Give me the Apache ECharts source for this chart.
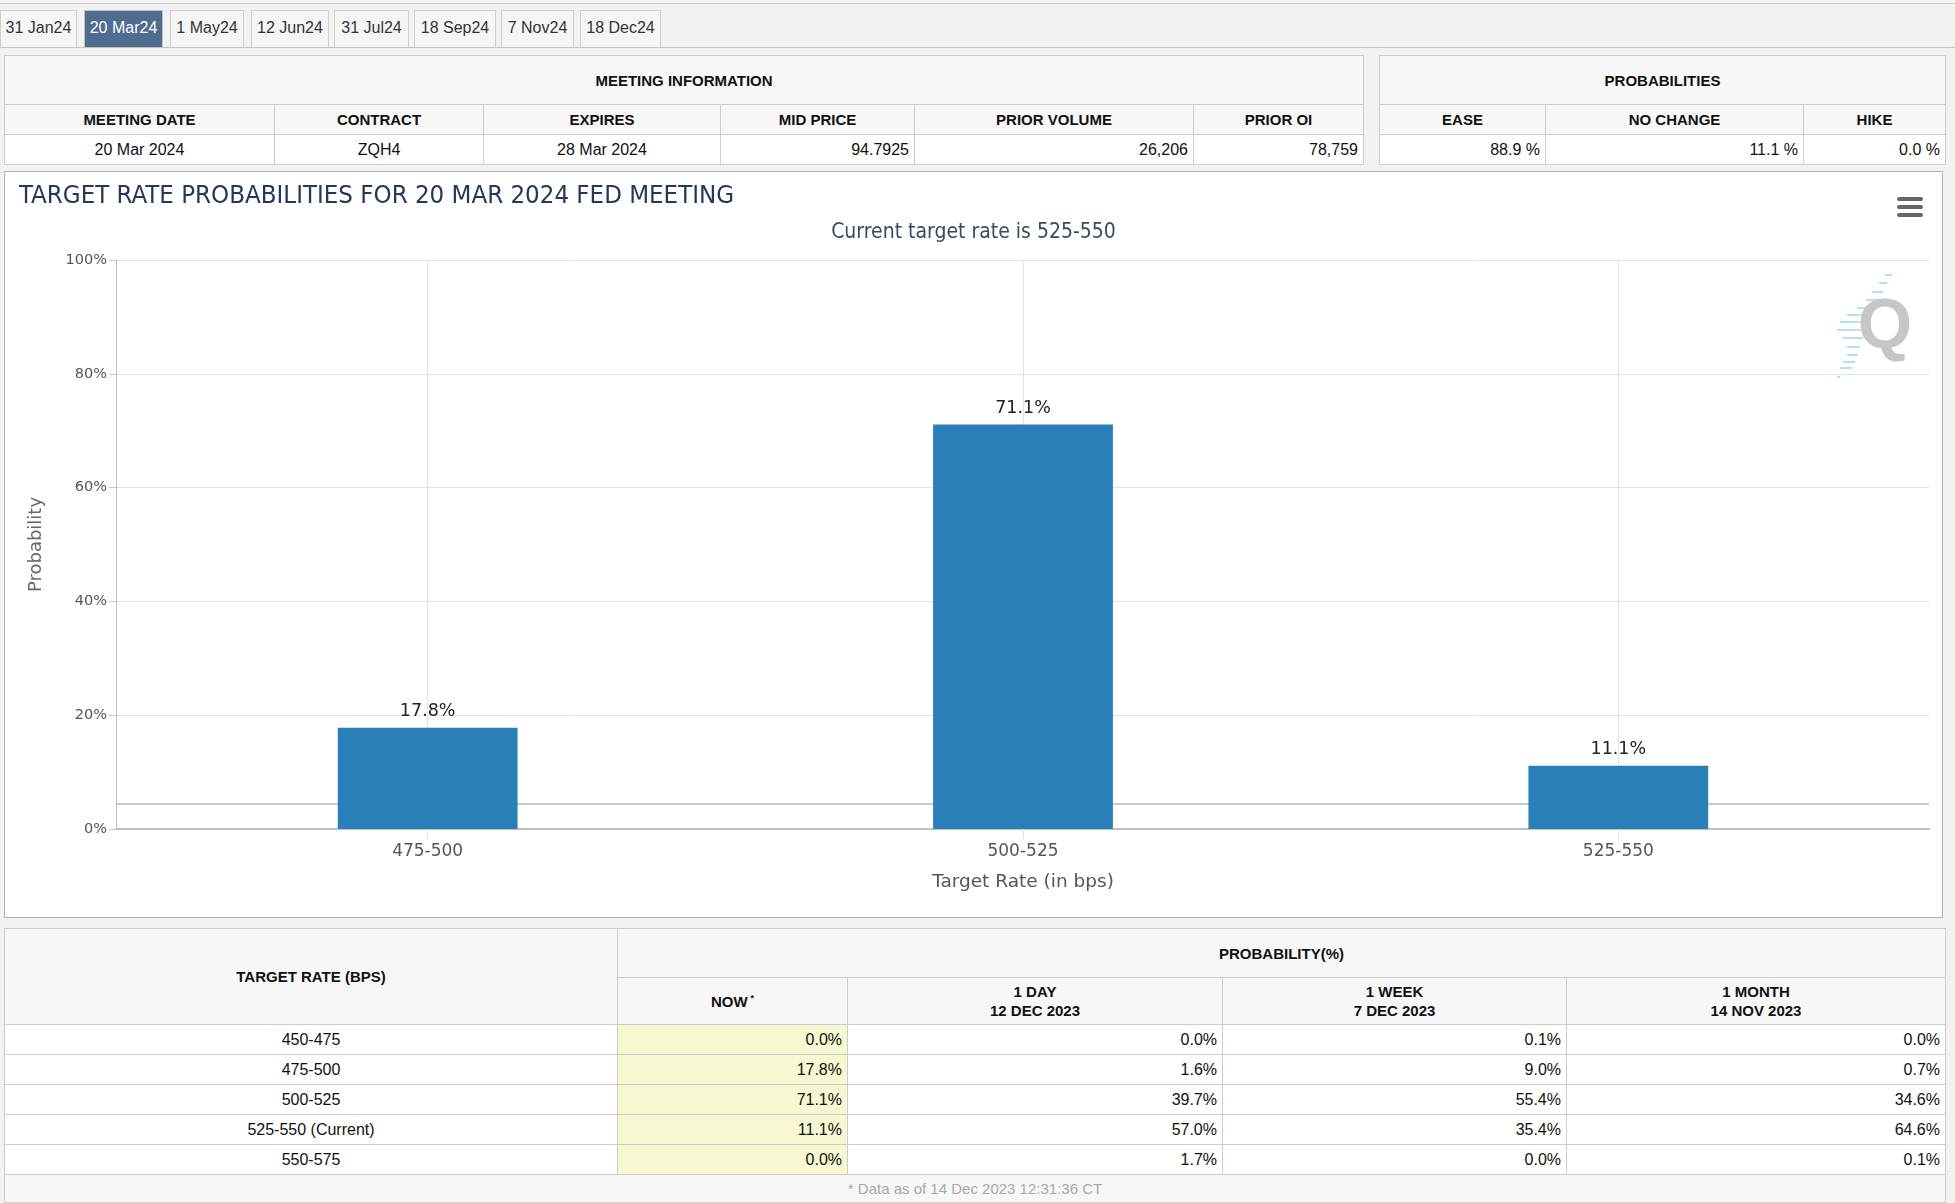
<!DOCTYPE html>
<html><head><meta charset="utf-8">
<script src="https://cdn.jsdelivr.net/npm/echarts@6/dist/echarts.min.js"></script>
<style>
html,body{margin:0;padding:0;background:#f2f2f2;width:1955px;height:1203px;overflow:hidden;font-family:"Liberation Sans",Arial,sans-serif;position:relative;}
.line{position:absolute;background:#cfcfcf;}
.tab{position:absolute;top:10px;height:37px;border:1px solid #cfcfcf;border-bottom:none;background:#f5f5f5;box-sizing:border-box;font-size:16px;line-height:34px;text-align:center;color:#333;}
.tab.sel{background:#4f6b8e;color:#fff;border-color:#c0c0c0;}
table{border-collapse:collapse;table-layout:fixed;position:absolute;background:#fff;}
td,th{border:1px solid #cdcdcd;padding:0 6px;font-size:16px;color:#111;overflow:hidden;white-space:nowrap;box-sizing:border-box;}
th{background:#f7f7f7;font-weight:bold;font-size:15px;text-align:center;color:#111;}
td.c{text-align:center;}
td.r{text-align:right;padding-right:5px;}
td.now{background:#f7f7d2;}
td.foot{background:#f7f7f7;text-align:center;color:#a8a8a8;font-size:15px;}
sup{font-size:9px;vertical-align:6px;margin-left:3px;}
#chartwrap{position:absolute;left:4px;top:171px;width:1939px;height:747px;border:1px solid #b0b0b0;box-sizing:border-box;background:#fff;}
#chart{width:1937px;height:745px;}
</style>
</head><body>
<div class="line" style="left:0;top:3px;width:1955px;height:1px;"></div>
<div id="tabs"></div>
<div class="line" style="left:0;top:47px;width:1955px;height:1px;background:#c4c4c4;"></div>

<table id="meet" style="left:4px;top:55px;width:1359px;"></table>
<table id="probs" style="left:1379px;top:55px;width:566px;"></table>

<div id="chartwrap"><div id="chart"></div></div>

<table id="hist" style="left:4px;top:928px;width:1941px;"></table>

<script>
// ---------- data ----------
const tabLabels = ['31 Jan24','20 Mar24','1 May24','12 Jun24','31 Jul24','18 Sep24','7 Nov24','18 Dec24'];
const selectedTab = 1;

const meetingHeaders = ['MEETING DATE','CONTRACT','EXPIRES','MID PRICE','PRIOR VOLUME','PRIOR OI'];
const meetingValues = ['20 Mar 2024','ZQH4','28 Mar 2024','94.7925','26,206','78,759'];

const probHeaders = ['EASE','NO CHANGE','HIKE'];
const probValues = [88.9, 11.1, 0.0];

const categories = ['475-500','500-525','525-550'];
const probNow = [17.8, 71.1, 11.1];
const refLines = [4.4];

const rateRows = ['450-475','475-500','500-525','525-550 (Current)','550-575'];
const nowVals = [0.0, 17.8, 71.1, 11.1, 0.0];
const dayVals = [0.0, 1.6, 39.7, 57.0, 1.7];
const weekVals = [0.1, 9.0, 55.4, 35.4, 0.0];
const monthVals = [0.0, 0.7, 34.6, 64.6, 0.1];
const histHeaders = ['1 DAY<br>12 DEC 2023','1 WEEK<br>7 DEC 2023','1 MONTH<br>14 NOV 2023'];
const footnote = '* Data as of 14 Dec 2023 12:31:36 CT';

// ---------- tabs ----------
const tabPos = [[0,77],[84,163],[170,244],[251,329],[334,409],[414,496],[501,574],[580,661]];
const tabsEl = document.getElementById('tabs');
tabLabels.forEach((t,i)=>{
  const d=document.createElement('div');
  d.className='tab'+(i===selectedTab?' sel':'');
  d.style.left=tabPos[i][0]+'px'; d.style.width=(tabPos[i][1]-tabPos[i][0])+'px';
  d.textContent=t; tabsEl.appendChild(d);
});

// ---------- top tables ----------
const meetW=[270,209,237,194,279,170];
const meetAlign=['c','c','c','r','r','r'];
let h='<colgroup>'+meetW.map(w=>'<col style="width:'+w+'px">').join('')+'</colgroup>';
h+='<tr style="height:49px"><th colspan="6">MEETING INFORMATION</th></tr>';
h+='<tr style="height:30px">'+meetingHeaders.map(x=>'<th>'+x+'</th>').join('')+'</tr>';
h+='<tr style="height:30px">'+meetingValues.map((x,i)=>'<td class="'+meetAlign[i]+'">'+x+'</td>').join('')+'</tr>';
document.getElementById('meet').innerHTML=h;

const probW=[166,258,142];
h='<colgroup>'+probW.map(w=>'<col style="width:'+w+'px">').join('')+'</colgroup>';
h+='<tr style="height:49px"><th colspan="3">PROBABILITIES</th></tr>';
h+='<tr style="height:30px">'+probHeaders.map(x=>'<th>'+x+'</th>').join('')+'</tr>';
h+='<tr style="height:30px">'+probValues.map(v=>'<td class="r">'+v.toFixed(1)+' %</td>').join('')+'</tr>';
document.getElementById('probs').innerHTML=h;

// ---------- bottom table ----------
const histW=[613,230,375,344,379];
h='<colgroup>'+histW.map(w=>'<col style="width:'+w+'px">').join('')+'</colgroup>';
h+='<tr style="height:49px"><th rowspan="2">TARGET RATE (BPS)</th><th colspan="4">PROBABILITY(%)</th></tr>';
h+='<tr style="height:47px"><th>NOW<sup>*</sup></th>'+histHeaders.map(x=>'<th style="line-height:19px">'+x+'</th>').join('')+'</tr>';
rateRows.forEach((r,i)=>{
  h+='<tr style="height:30px"><td class="c">'+r+'</td><td class="r now">'+nowVals[i].toFixed(1)+'%</td><td class="r">'+dayVals[i].toFixed(1)+'%</td><td class="r">'+weekVals[i].toFixed(1)+'%</td><td class="r">'+monthVals[i].toFixed(1)+'%</td></tr>';
});
h+='<tr style="height:28px"><td class="foot" colspan="5">'+footnote+'</td></tr>';
document.getElementById('hist').innerHTML=h;

// ---------- chart ----------
const dashes=[[1880,1887,103],[1874,1882,111],[1867,1878,120],[1861,1875,128],[1852,1862,136],[1842,1858,143],[1835,1858,150],[1832,1858,158],[1838,1858,166],[1842,1855,175],[1842,1853,183],[1838,1850,190],[1835,1847,196],[1832,1835,205]];
const graphic=[];
[25,33,41].forEach(y=>graphic.push({type:'rect',left:1892,top:y,shape:{width:26,height:4,r:2},style:{fill:'#666'},z:100}));
dashes.forEach(d=>graphic.push({type:'line',shape:{x1:d[0],y1:d[2],x2:d[1],y2:d[2]},style:{stroke:'#b3e0f6',lineWidth:2},z:90}));
graphic.push({type:'text',x:1880,y:157,style:{text:'Q',font:'bold 70px "Liberation Sans", Arial',fill:'#c6c6c6',align:'center',verticalAlign:'middle'},z:95});

const chart=echarts.init(document.getElementById('chart'));
const axisFont='DejaVu Sans';
chart.setOption({
  animation:false,
  backgroundColor:'#fff',
  title:[
    {text:'TARGET RATE PROBABILITIES FOR 20 MAR 2024 FED MEETING',left:9,top:6,
     textStyle:{fontFamily:'DejaVu Sans Condensed',fontSize:25.6,fontWeight:'normal',color:'#22395a'}},
    {text:'Current target rate is 525-550',left:'center',top:45,
     textStyle:{fontFamily:'DejaVu Sans Condensed',fontSize:21,fontWeight:'normal',color:'#3a4b5f'}}
  ],
  grid:[
    {left:111,right:13,top:88,bottom:88},
    {left:125,right:26,top:88,bottom:88}
  ],
  xAxis:[
    {type:'value',gridIndex:0,min:0,max:1,
     axisLine:{show:true,onZero:false,lineStyle:{color:'#c0c0c0',width:2}},
     axisTick:{show:false},axisLabel:{show:false},splitLine:{show:false}},
    {type:'category',gridIndex:1,data:categories,
     name:'Target Rate (in bps)',nameLocation:'middle',nameGap:44,
     nameTextStyle:{fontFamily:axisFont,fontSize:18.5,color:'#555'},
     axisLine:{show:false},
     axisTick:{show:true,alignWithLabel:true,length:10,lineStyle:{color:'#dddddd'}},
     axisLabel:{fontFamily:axisFont,fontSize:17,color:'#555',margin:14.5},
     splitLine:{show:false}}
  ],
  yAxis:[
    {type:'value',gridIndex:0,min:0,max:100,interval:20,
     name:'Probability',nameLocation:'middle',nameGap:71,
     nameTextStyle:{fontFamily:axisFont,fontSize:18,color:'#666'},
     axisLine:{show:true,lineStyle:{color:'#c0c0c0'}},
     axisTick:{show:true,length:7,lineStyle:{color:'#c8c8c8'}},
     axisLabel:{formatter:'{value}%',fontFamily:axisFont,fontSize:14.5,color:'#555',margin:9},
     splitLine:{lineStyle:{color:'#e2e2e2'}}},
    {type:'value',gridIndex:1,min:0,max:100,interval:20,show:false}
  ],
  series:[
    {type:'line',xAxisIndex:0,yAxisIndex:0,data:[[0,0],[1,0]],symbol:'none',lineStyle:{opacity:0},silent:true,z:1,
     markLine:{silent:true,symbol:'none',z:1,animation:false,label:{show:false},
       data:refLines.map(v=>({yAxis:v,lineStyle:{color:'#c8c8c8',width:2,type:'solid'}}))}},
    {type:'line',xAxisIndex:1,yAxisIndex:1,data:probNow,symbol:'none',lineStyle:{opacity:0},silent:true,z:1,
     markLine:{silent:true,symbol:'none',z:1,animation:false,label:{show:false},
       data:categories.map(c=>({xAxis:c,lineStyle:{color:'#e2e2e2',width:1,type:'solid'}}))}},
    {type:'bar',xAxisIndex:1,yAxisIndex:1,data:probNow,barWidth:'30.2%',z:3,itemStyle:{color:'#2980b9'},
     label:{show:true,position:'top',distance:7,formatter:p=>p.value.toFixed(1)+'%',
            fontFamily:axisFont,fontSize:17.5,color:'#222'}}
  ],
  graphic:graphic
});
</script>
</body></html>
